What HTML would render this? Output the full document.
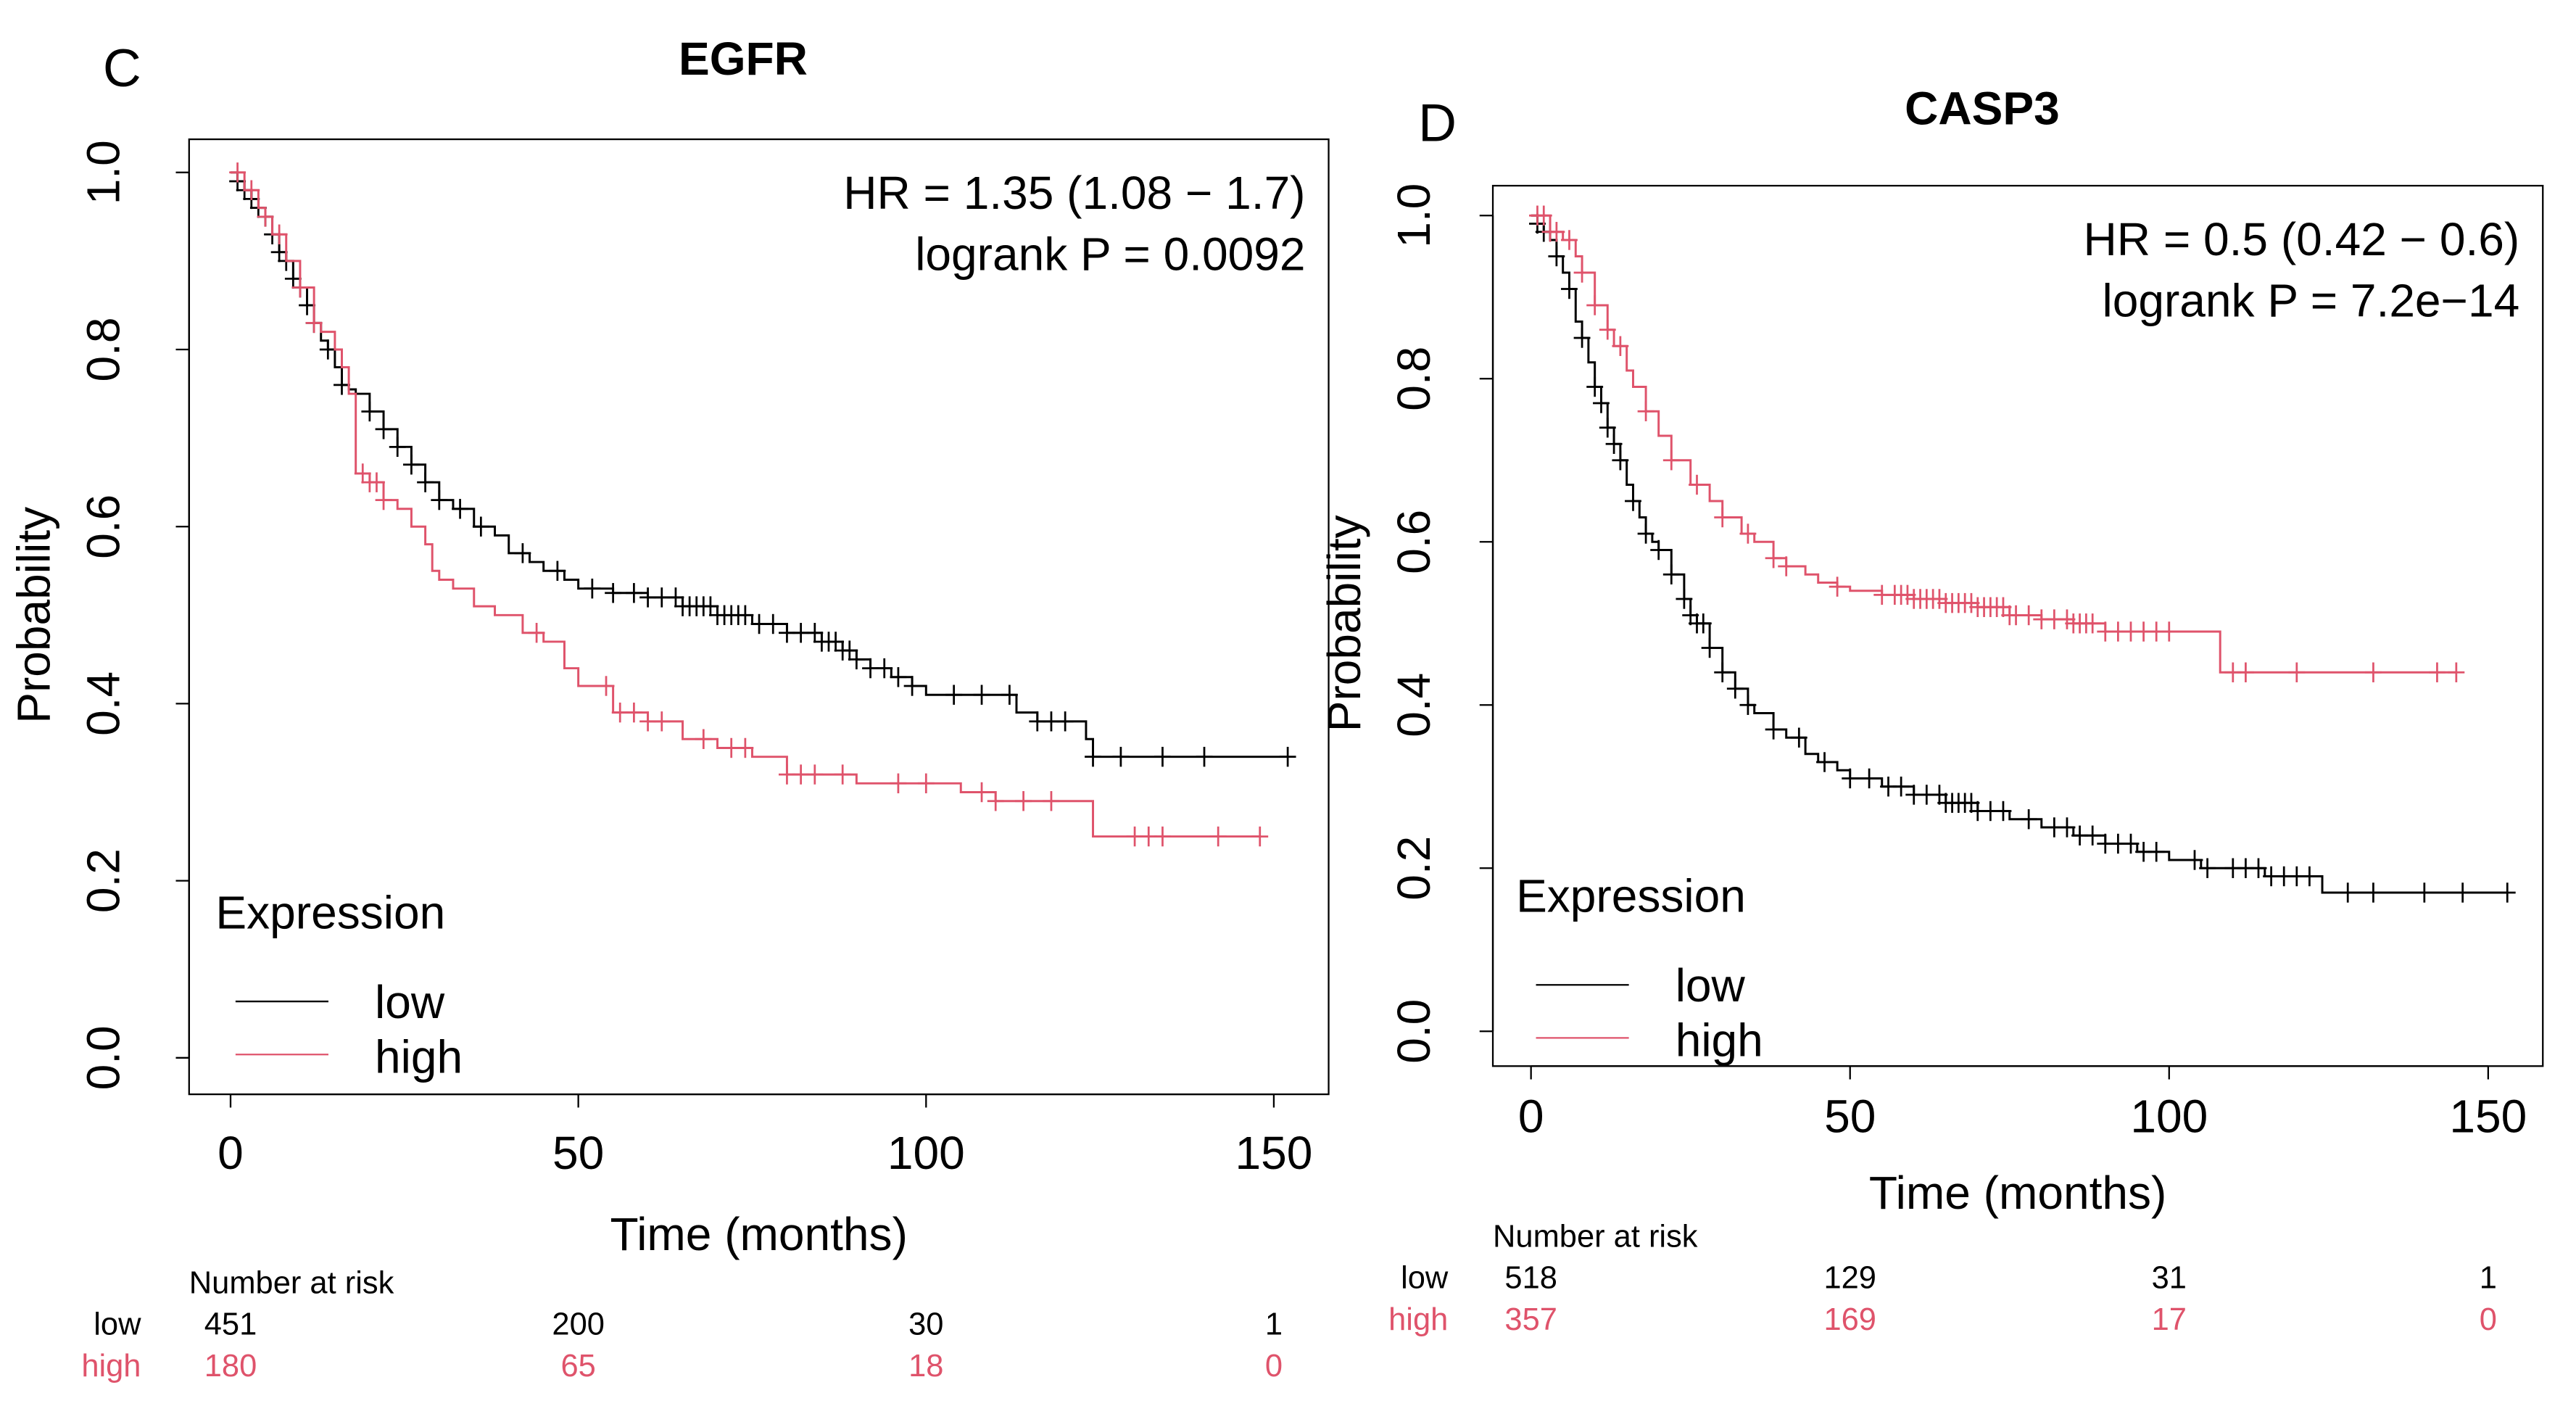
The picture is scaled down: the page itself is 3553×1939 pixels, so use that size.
<!DOCTYPE html>
<html><head><meta charset="utf-8"><style>
html,body{margin:0;padding:0;background:#fff;}
svg{display:block;}
text{font-family:"Liberation Sans",sans-serif;}
</style></head><body>
<svg id="s" width="3553" height="1939" viewBox="0 0 1553 848" preserveAspectRatio="none" xmlns="http://www.w3.org/2000/svg"></svg>
<script>
const RED="#DF536B";
// EGFR data
const egfrLowT=[0,1,2,3,4,5,6,7,8,9,10,11,12,13,14,15,16,17,18,20,22,24,26,28,30,32,35,38,40,43,45,48,50,55,60,65,70,75,80,85,88,90,92,95,98,100,105,110,113,116,120,123,124,152];
const egfrLowS=[1,0.99,0.98,0.97,0.96,0.95,0.93,0.91,0.9,0.88,0.87,0.85,0.83,0.81,0.8,0.78,0.76,0.755,0.75,0.73,0.71,0.69,0.67,0.65,0.63,0.62,0.6,0.59,0.57,0.56,0.55,0.54,0.53,0.525,0.52,0.51,0.5,0.49,0.48,0.47,0.46,0.45,0.44,0.43,0.42,0.41,0.41,0.41,0.39,0.38,0.38,0.36,0.34,0.34];
const egfrLowC=[1,2,3,4,5,6,7,8,9,10,11,12,14,16,20,22,24,26,28,30,33,36,42,47,52,55,58,60,62,64,65,66,67,68,69,70,71,72,73,74,76,78,80,82,84,85,86,87,88,89,90,92,94,96,98,104,108,112,116,118,120,124,128,134,140,152];
const egfrHighT=[0,2,4,5,6,8,10,12,13,15,16,17,18,20,22,24,26,28,29,30,32,35,38,42,45,48,50,55,60,65,70,75,80,90,100,105,110,124,148];
const egfrHighS=[1,0.98,0.96,0.95,0.93,0.9,0.87,0.83,0.82,0.8,0.78,0.75,0.66,0.65,0.63,0.62,0.6,0.58,0.55,0.54,0.53,0.51,0.5,0.48,0.47,0.44,0.42,0.39,0.38,0.36,0.35,0.34,0.32,0.31,0.31,0.3,0.29,0.25,0.25];
const egfrHighC=[1,3,5,7,10,12,19,20,21,22,44,54,56,58,60,62,68,72,74,80,82,84,88,96,100,108,110,114,118,130,132,134,142,148];
// CASP3 data
const caspLowT=[0,1,2,3,4,5,6,7,8,9,10,11,12,13,14,15,16,17,18,19,20,22,24,25,26,28,30,32,34,35,38,40,43,45,48,50,55,60,65,70,75,80,85,90,95,100,105,110,115,120,124,153];
const caspLowS=[1,0.99,0.98,0.97,0.95,0.93,0.91,0.87,0.85,0.82,0.79,0.77,0.74,0.72,0.7,0.67,0.65,0.63,0.61,0.6,0.59,0.56,0.53,0.51,0.5,0.47,0.44,0.42,0.4,0.39,0.37,0.36,0.34,0.33,0.32,0.31,0.3,0.29,0.28,0.27,0.26,0.25,0.24,0.23,0.22,0.21,0.2,0.2,0.19,0.19,0.17,0.17];
const caspLowC=[1,2,4,6,8,10,11,12,13,14,16,18,20,22,24,25,26,27,28,30,32,34,38,42,46,50,53,56,58,60,62,64,65,66,67,68,69,70,72,74,78,82,84,86,88,90,92,94,96,98,104,106,110,112,114,116,118,120,122,128,132,140,146,153];
const caspHighT=[0,3,5,7,8,10,12,13,15,16,18,20,22,25,28,30,33,35,38,40,43,45,48,50,55,60,65,70,75,80,85,90,100,107,108,145];
const caspHighS=[1,0.98,0.97,0.95,0.93,0.89,0.86,0.84,0.81,0.79,0.76,0.73,0.7,0.67,0.65,0.63,0.61,0.6,0.58,0.57,0.56,0.55,0.545,0.54,0.535,0.53,0.525,0.52,0.51,0.505,0.5,0.49,0.49,0.49,0.44,0.44];
const caspHighC=[1,2,3,4,6,8,10,12,14,18,22,26,30,34,38,40,48,55,57,58,59,60,61,62,63,64,65,66,67,68,69,70,71,72,73,74,75,76,78,80,82,84,85,86,87,88,90,92,94,96,98,100,110,112,120,132,142,145];
const xTicks=[0,50,100,150];
const yTicks=[0,0.2,0.4,0.6,0.8,1.0];

const svg=document.getElementById('s');
const NS="http://www.w3.org/2000/svg";
function mk(tag,attrs,parent){const e=document.createElementNS(NS,tag);for(const k in attrs)e.setAttribute(k,attrs[k]);(parent||svg).appendChild(e);return e;}
function txt(x,y,s,size,opts,parent){const e=mk('text',Object.assign({x:x,y:y,'font-size':size},opts||{}),parent);e.textContent=s;return e;}
function stepAt(T,S,t){let v=S[0];for(let i=0;i<T.length;i++){if(T[i]<=t)v=S[i];}return v;}

function panel(p){
  const g=mk('g',{});
  
  
  const X=t=>p.x0+t*p.kx, Y=s=>p.y0-s*p.ky;
  const box=mk('rect',{x:p.bx,y:p.by,width:p.bw,height:p.bh,fill:'none',stroke:'#000','stroke-width':1},g);
  
  const xa=mk('g',{},g);
  mk('line',{x1:X(0),x2:X(150),y1:p.by+p.bh,y2:p.by+p.bh,stroke:'#000'},xa);
  xTicks.forEach(v=>{mk('line',{x1:X(v),x2:X(v),y1:p.by+p.bh,y2:p.by+p.bh+8,stroke:'#000'},xa);
    const t=txt(X(v),p.by+p.bh+p.xlOff,String(v),p.fs,{'text-anchor':'middle'},xa);});
  const xt=txt((p.bx+p.bx+p.bw)/2,p.by+p.bh+p.xtOff,'Time (months)',p.fs,{'text-anchor':'middle'},g);
  
  const ya=mk('g',{},g);
  mk('line',{x1:p.bx,x2:p.bx,y1:Y(0),y2:Y(1),stroke:'#000'},ya);
  yTicks.forEach(v=>{mk('line',{x1:p.bx,x2:p.bx-8,y1:Y(v),y2:Y(v),stroke:'#000'},ya);
    const t=txt(p.bx-p.ylOff,Y(v),v.toFixed(1),p.fs,{'text-anchor':'middle',transform:`rotate(-90 ${p.bx-p.ylOff} ${Y(v)})`},ya);
    });
  const yt=txt(p.bx-p.ytOff,(Y(0)+Y(1))/2,'Probability',p.fs,{'text-anchor':'middle',transform:`rotate(-90 ${p.bx-p.ytOff} ${(Y(0)+Y(1))/2})`},g);
  
  p.series.forEach(sr=>{
    let d=`M${X(sr.T[0])},${Y(sr.S[0])}`;
    for(let i=1;i<sr.T.length;i++){d+=`H${X(sr.T[i])}V${Y(sr.S[i])}`;}
    const path=mk('path',{d:d,fill:'none',stroke:sr.col,'stroke-width':1.3},g);
    
    const cg=mk('g',{stroke:sr.col,'stroke-width':1.2},g);
    
    sr.C.forEach(c=>{const x=X(c),y=Y(stepAt(sr.T,sr.S,c));
      mk('line',{x1:x-5,x2:x+5,y1:y,y2:y},cg);mk('line',{x1:x,x2:x,y1:y-6,y2:y+6},cg);});
  });
  const ti=txt(p.titleX,p.titleY,p.title,p.fs,{'text-anchor':'middle','font-weight':'bold'},g);
  
  const pl=txt(p.labX,p.labY,p.lab,32,{'font-family':'"DejaVu Sans",sans-serif'},g);
  
  const h1=txt(p.bx+p.bw-14,p.by+42,p.hr,p.fs,{'text-anchor':'end'},g);
  
  const h2=txt(p.bx+p.bw-14,p.by+79,p.lp,p.fs,{'text-anchor':'end'},g);
  
  const lg=mk('g',{},g);
  txt(p.legX,p.legY,'Expression',p.fs,{},lg);
  const e1=mk('g',{},lg);
  mk('line',{x1:p.legX+12,x2:p.legX+68,y1:p.legY+44,y2:p.legY+44,stroke:'#000'},e1);
  txt(p.legX+96,p.legY+54,'low',p.fs,{},e1);
  const e2=mk('g',{},lg);
  mk('line',{x1:p.legX+12,x2:p.legX+68,y1:p.legY+76,y2:p.legY+76,stroke:RED},e2);
  txt(p.legX+96,p.legY+87,'high',p.fs,{},e2);
  const rt=mk('g',{},g);
  txt(p.rtX,p.rtY,'Number at risk',19,{},rt);
  txt(p.rlX,p.rtY+25,'low',19,{'text-anchor':'end'},rt);
  txt(p.rlX,p.rtY+50,'high',19,{'text-anchor':'end',fill:RED},rt);
  xTicks.forEach((v,i)=>{txt(X(v),p.rtY+25,String(p.riskLow[i]),19,{'text-anchor':'middle'},rt);
    txt(X(v),p.rtY+50,String(p.riskHigh[i]),19,{'text-anchor':'middle',fill:RED},rt);});
}

panel({name:'egfr-panel',bx:114,by:84,bw:687,bh:576,x0:139,kx:4.193,y0:638,ky:534,fs:28,
  xlOff:45,xtOff:94,ylOff:42,ytOff:84,title:'EGFR',titleX:448,titleY:45,lab:'C',labX:62,labY:52,
  hr:'HR = 1.35 (1.08 \u2212 1.7)',lp:'logrank P = 0.0092',legX:130,legY:560,
  rtX:114,rtY:780,rlX:85,riskLow:[451,200,30,1],riskHigh:[180,65,18,0],
  series:[{name:'low',col:'#000',T:egfrLowT,S:egfrLowS,C:egfrLowC},{name:'high',col:RED,T:egfrHighT,S:egfrHighS,C:egfrHighC}]});
panel({name:'casp3-panel',bx:900,by:112,bw:633,bh:531,x0:923,kx:3.847,y0:622,ky:492,fs:28,
  xlOff:40,xtOff:86,ylOff:38,ytOff:80,title:'CASP3',titleX:1195,titleY:75,lab:'D',labX:855,labY:85,
  hr:'HR = 0.5 (0.42 \u2212 0.6)',lp:'logrank P = 7.2e\u221214',legX:914,legY:550,
  rtX:900,rtY:752,rlX:873,riskLow:[518,129,31,1],riskHigh:[357,169,17,0],
  series:[{name:'low',col:'#000',T:caspLowT,S:caspLowS,C:caspLowC},{name:'high',col:RED,T:caspHighT,S:caspHighS,C:caspHighC}]});
</script>
</body></html>
